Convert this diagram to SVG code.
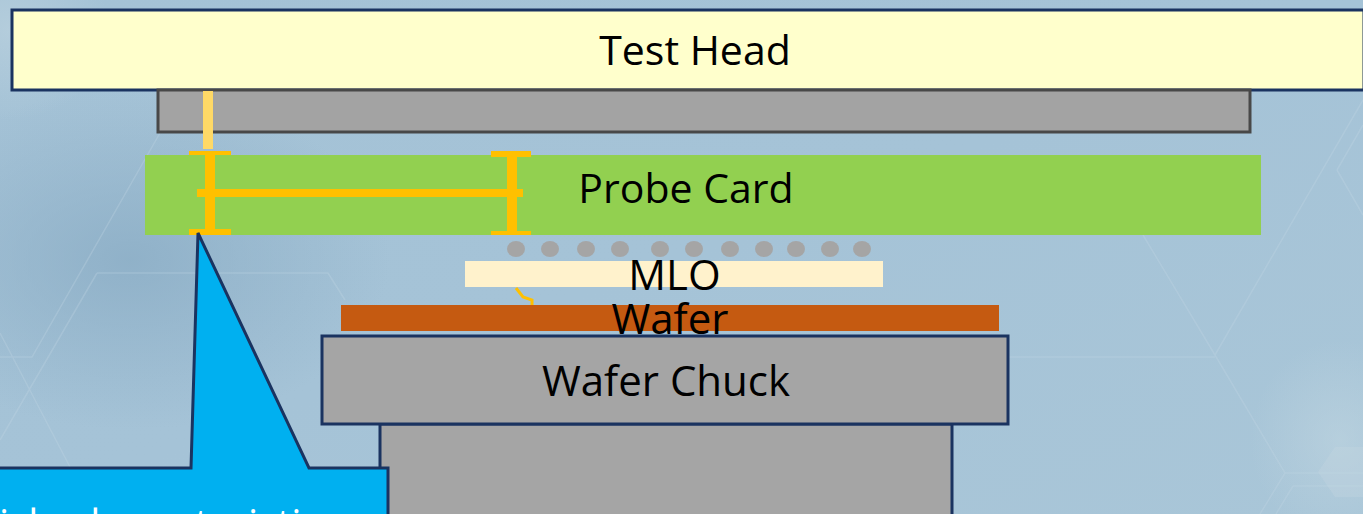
<svg xmlns="http://www.w3.org/2000/svg" width="1363" height="514" viewBox="0 0 1363 514">
<style>
.t{font-family:"Open Sans","Noto Sans",sans-serif;fill:#000;text-anchor:middle}
.hex{fill:none;stroke:#c4d8e4;stroke-width:1.5;opacity:.3}
.b{stroke:#1a3360;stroke-width:3}
.y{fill:#ffc000}
.d{fill:#a5a5a5}
</style>
<defs>
<linearGradient id="bg" x1="0" y1="0" x2="1" y2="1"><stop offset="0" stop-color="#a4c2d6"/><stop offset=".5" stop-color="#a5c3d7"/><stop offset="1" stop-color="#a9c6d8"/></linearGradient>
<radialGradient id="dk"><stop offset="0" stop-color="#8caec6" stop-opacity=".85"/><stop offset="1" stop-color="#8caec6" stop-opacity="0"/></radialGradient>
<radialGradient id="lt"><stop offset="0" stop-color="#c4d8e2" stop-opacity=".5"/><stop offset="1" stop-color="#c4d8e2" stop-opacity="0"/></radialGradient>
</defs>
<rect width="1363" height="514" fill="url(#bg)"/>
<ellipse cx="130" cy="260" rx="260" ry="170" fill="url(#dk)"/>
<ellipse cx="1340" cy="440" rx="90" ry="100" fill="url(#lt)"/>
<ellipse cx="10" cy="30" rx="100" ry="90" fill="url(#lt)"/>
<path class="hex" d="M1143 235L1215 355L1285 473H1363M1215 355L1363 100M1337 170L1363 125M1337 170L1363 215M1008 357H1215M1285 473L1260 514M1293 486H1363M1293 486L1276 514"/>
<path class="hex" d="M160 133L32 357H0M97 273H328L345 300M97 273L0 440M0 333L70 467"/>
<path d="M1335 447H1363V497H1335L1318 472Z" fill="#c8d8e2" opacity=".3"/>
<g id="connectors"></g>
<g id="test-head"><rect x="12" y="10" width="1352" height="80" fill="#ffffcc" stroke="#1a3360" stroke-width="3"/><text class="t" x="695" y="65" font-size="41">Test Head</text></g>
<g id="test-head-plate"><rect x="158" y="90" width="1092" height="42" fill="#a3a3a3" stroke="#484848" stroke-width="3"/></g>
<g id="probe-card"><rect x="145" y="155" width="1116" height="80" fill="#92d050"/><text class="t" x="686" y="203" font-size="41">Probe Card</text></g>
<g id="pin"><rect x="203" y="91" width="10" height="58" fill="#ffd966"/>
<rect class="y" x="189" y="151" width="42" height="4"/><rect class="y" x="189" y="229" width="42" height="6"/><rect class="y" x="205" y="155" width="10" height="75"/>
<rect class="y" x="197" y="189" width="326" height="8"/>
<rect class="y" x="491" y="151" width="40" height="6"/><rect class="y" x="491" y="231" width="40" height="4"/><rect class="y" x="507" y="157" width="10" height="75"/></g>
<g id="probes" class="d"><ellipse cx="516" cy="249" rx="9" ry="8"/><ellipse cx="550" cy="249" rx="9" ry="8"/><ellipse cx="586" cy="249" rx="9" ry="8"/><ellipse cx="620" cy="249" rx="9" ry="8"/><ellipse cx="660" cy="249" rx="9" ry="8"/><ellipse cx="694" cy="249" rx="9" ry="8"/><ellipse cx="730" cy="249" rx="9" ry="8"/><ellipse cx="764" cy="249" rx="9" ry="8"/><ellipse cx="796" cy="249" rx="9" ry="8"/><ellipse cx="830" cy="249" rx="9" ry="8"/><ellipse cx="862" cy="249" rx="9" ry="8"/></g>
<g id="mlo"><rect x="465" y="261" width="418" height="26" fill="#fff2cc"/><text class="t" x="674.500" y="290" font-size="42">MLO</text></g>
<path d="M516 288L523 297L532 300V307" fill="none" stroke="#ffc000" stroke-width="3"/>
<g id="wafer"><rect x="341" y="305" width="658" height="26" fill="#c55a11"/><text class="t" x="670" y="334" font-size="42">Wafer</text></g>
<g id="chuck-base"><rect class="d b" x="380" y="424" width="572" height="100"/></g>
<g id="wafer-chuck"><rect class="d b" x="322" y="336" width="686" height="88"/><text class="t" x="666" y="396" font-size="42">Wafer Chuck</text></g>
<g id="callout"><path d="M-5 468H191L198 233L309 468H388V520H-5Z" fill="#00b0f0" stroke="#1a3360" stroke-width="3"/><text x="-1" y="538" font-family="Open Sans,Noto Sans,sans-serif" font-size="40" fill="#fff">icle characteristic</text></g>
</svg>
